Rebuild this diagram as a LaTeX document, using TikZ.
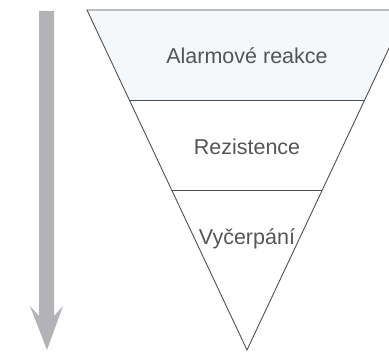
\documentclass[tikz,border=0pt]{standalone}
\usepackage{fontspec}
\setmainfont{Liberation Sans}
\usepackage{tikz}
\usetikzlibrary{positioning, calc}

\definecolor{bandline}{HTML}{4E4E4E}
\definecolor{bandtext}{HTML}{555555}
\definecolor{topband}{HTML}{F5F8FB}
\definecolor{arrowgray}{HTML}{B3B3B7}

\tikzset{
  stage/.style={text=bandtext, font=\fontsize{21.5}{25}\selectfont, anchor=base, inner sep=0pt},
  band/.style={draw=bandline, line width=0.9pt, line join=miter}
}

\begin{document}
\begin{tikzpicture}[x=1pt, y=-1pt]
        % 0. Page frame (right corner of the funnel is cut off)
        \useasboundingbox (0,0) rectangle (389,353);
        \clip (0,0) rectangle (389,353);

        % 1. Corner points of the inverted triangle
        \coordinate (TL) at (87,10);
        \coordinate (TR) at (407,10);
        \coordinate (Apex) at (247,350);
        \coordinate (L1) at ($(TL)!0.2647!(Apex)$);
        \coordinate (R1) at ($(TR)!0.2647!(Apex)$);
        \coordinate (L2) at ($(TL)!0.5294!(Apex)$);
        \coordinate (R2) at ($(TR)!0.5294!(Apex)$);

        % 2. Tinted top band
        \fill[topband] (TL) -- (TR) -- (R1) -- (L1) -- cycle;

        % 3. Outline and band separators
        \draw[band] (TL) -- (TR) -- (Apex) -- cycle;
        \draw[band] (L1) -- (R1);
        \draw[band] (L2) -- (R2);

        % 4. Stage labels
        \node[stage] (alarm) at (247,64) {Alarmové reakce};
        \node[stage] (rezist) at (247,154) {Rezistence};
        \node[stage] (vycerp) at (247,244) {Vyčerpání};

        % 5. Gray arrow on the left
        \fill[arrowgray] (39,11) -- (54,11) -- (54,316) -- (63,306)
                         -- (47,350) -- (30,306) -- (39,316) -- cycle;

    \end{tikzpicture}
\end{document}
